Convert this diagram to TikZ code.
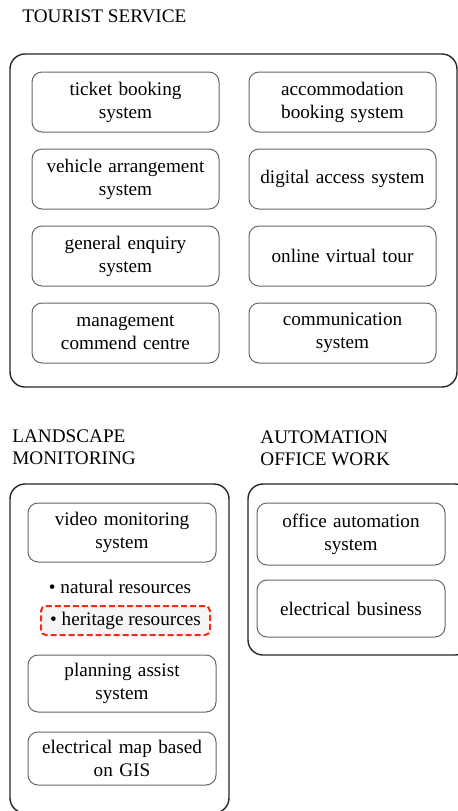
\documentclass[tikz,border=0pt]{standalone}
\usepackage{fontspec}
\setmainfont{Liberation Serif}
\usepackage{xcolor}
\usetikzlibrary{positioning}
\definecolor{hlred}{RGB}{240,45,20}

\begin{document}
\begin{tikzpicture}[
    x=0.5pt, y=-0.5pt,
    node distance=8pt,
    every node/.style={font=\fontsize{9.6}{11.5}\selectfont},
    group/.style={rectangle, draw=black!85, line width=0.7pt, rounded corners=7.5pt, inner sep=0pt},
    item/.style={rectangle, draw=black!60, line width=0.5pt, rounded corners=5pt, align=center, text width=88pt, minimum width=93.5pt, minimum height=30pt, inner sep=2pt},
    title/.style={anchor=base west, align=left, inner sep=0pt, font=\fontsize{9.6}{11}\selectfont},
    highlight/.style={rectangle, draw=hlred, fill=black!4, line width=1pt, dash pattern=on 3pt off 1.5pt, rounded corners=2.5pt, minimum width=84.5pt, minimum height=14.5pt, inner sep=0pt}
]
    \clip (0,0) rectangle (458,811);

    % tourist service
    \node[title] (tourtitle) at (22,22) {TOURIST SERVICE};
    \node[group, minimum width=223.5pt, minimum height=166.5pt] (tourist) at (233.5,220.5) {};
    \node[item] (ticket) at (125.5,102) {ticket booking\\system};
    \node[item, below=of ticket] (vehicle) {vehicle arrangement\\system};
    \node[item, below=of vehicle] (enquiry) {general enquiry\\system};
    \node[item, below=of enquiry] (command) {management\\commend centre};
    \node[item, right=14.5pt of ticket] (accom) {accommodation\\booking system};
    \node[item, below=of accom] (digital) {digital access system};
    \node[item, below=of digital] (virtual) {online virtual tour};
    \node[item, below=of virtual] (comm) {communication\\system};

    % landscape monitoring
    \node[title] (landtitle) at (12,464) {LANDSCAPE\\MONITORING};
    \node[group, minimum width=109.5pt, minimum height=164.5pt] (landscape) at (119.5,648.5) {};
    \node[item, minimum width=94pt, minimum height=29.5pt] (video) at (122,532.5) {video monitoring\\system};
    \node[anchor=base, inner sep=0pt] (natural) at (120,593) {\textbullet\ natural resources};
    \node[highlight] (heritage) at (125.5,620.5) {\textbullet\ heritage resources};
    \node[item, minimum width=94pt, minimum height=28.5pt] (planning) at (122,683.5) {planning assist\\system};
    \node[item, minimum width=94pt, minimum height=26.5pt, below=9.5pt of planning] (gismap) {electrical map based\\on GIS};

    % automation office work
    \node[title] (autotitle) at (260,465) {AUTOMATION\\OFFICE WORK};
    \node[group, minimum width=111pt, minimum height=85.5pt] (automation) at (359,569.5) {};
    \node[item, minimum width=94pt, minimum height=31pt] (office) at (351,534) {office automation\\system};
    \node[item, minimum width=94pt, minimum height=28.5pt, below=7pt of office] (business) {electrical business};
\end{tikzpicture}
\end{document}
